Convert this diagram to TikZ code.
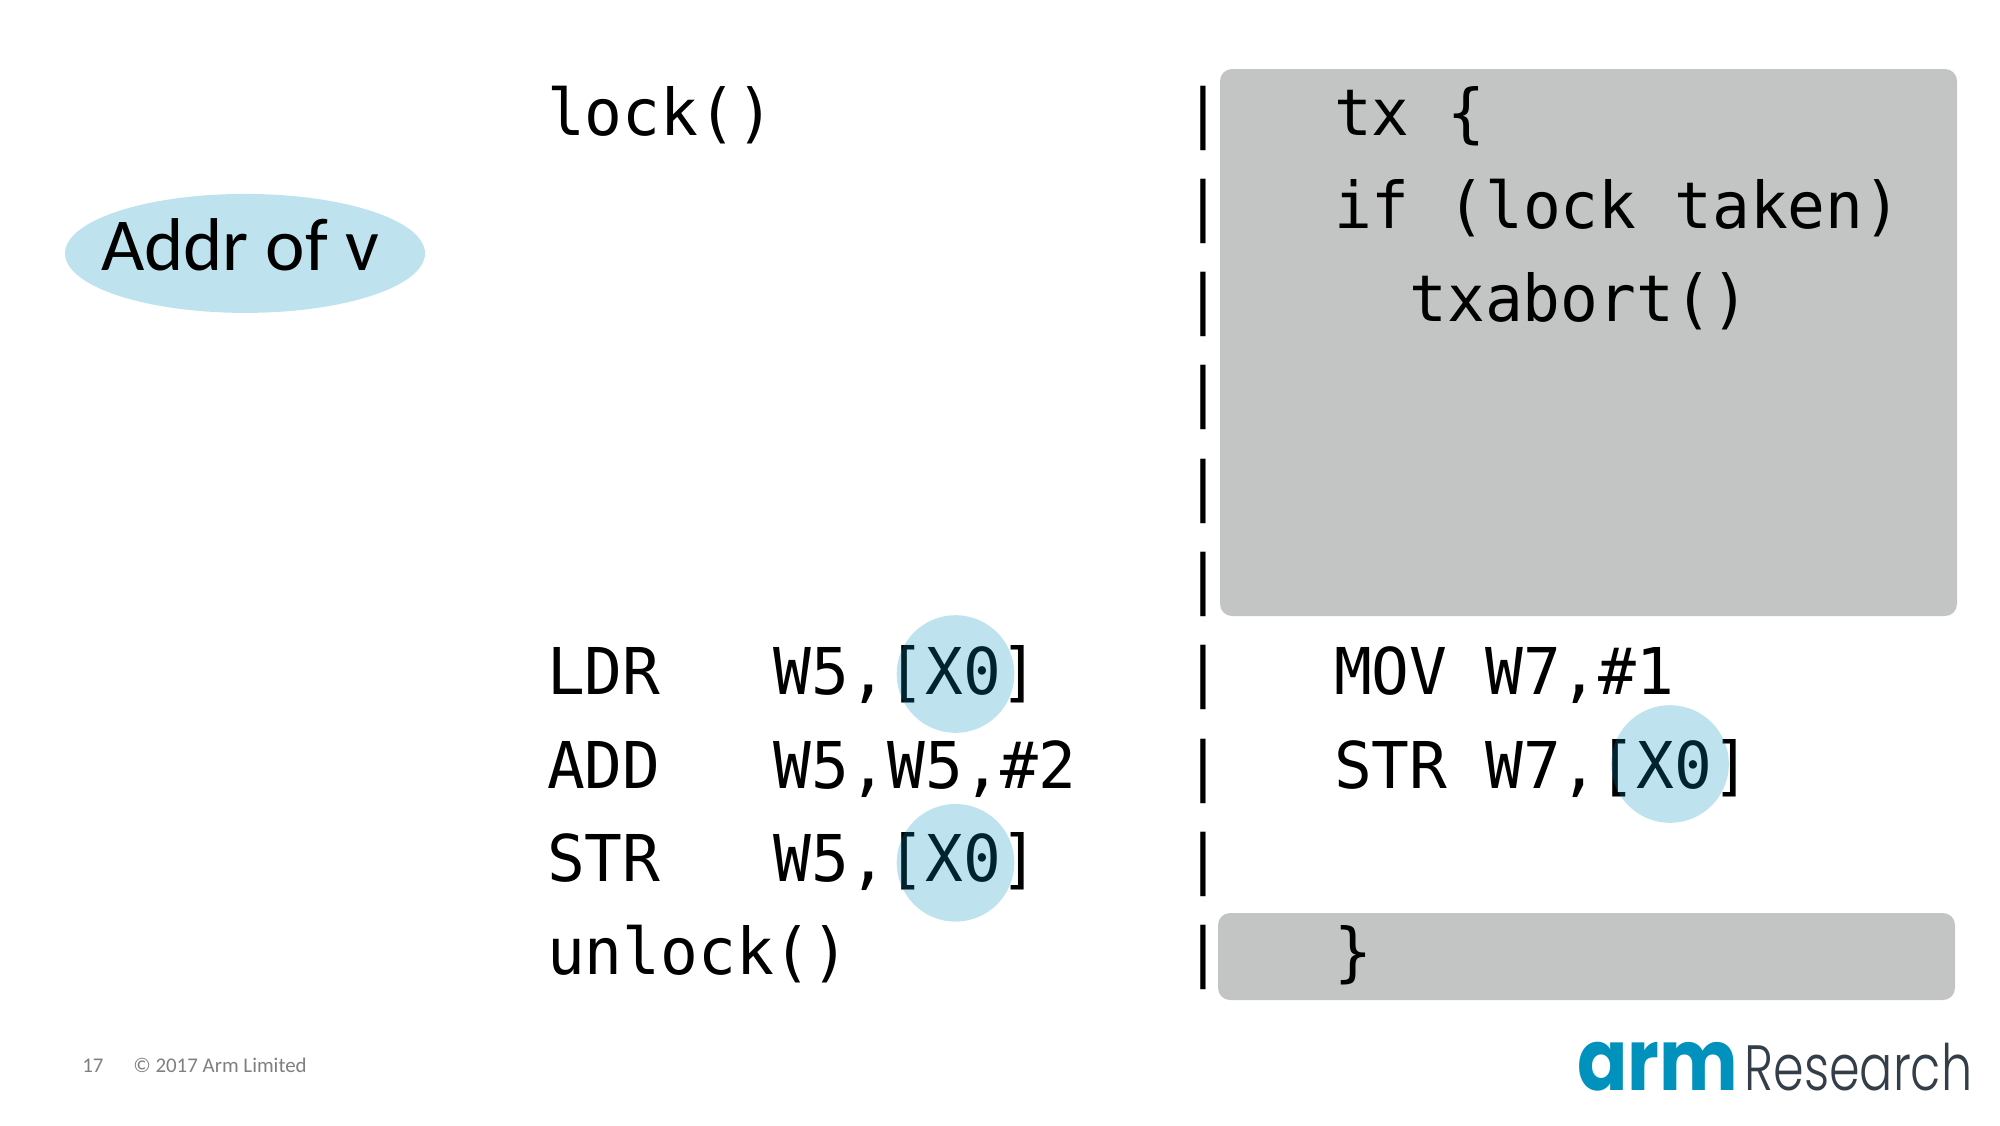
\documentclass[tikz,border=0pt]{standalone}
\usepackage{fontspec}
\usepackage{xcolor}
\usetikzlibrary{positioning,shapes.geometric}
\setmainfont{Carlito}
\newfontfamily\codefont[FakeStretch=0.974]{DejaVu Sans Mono}
\newfontfamily\logofont[FakeStretch=0.87]{Poppins}
\newfontfamily\logolight[FakeStretch=0.77]{Poppins Light}
\definecolor{armblue}{HTML}{0091BD}
\definecolor{panelgrey}{HTML}{C3C5C4}
\definecolor{footgrey}{HTML}{7F7F7F}
\definecolor{logoslate}{HTML}{333E48}
\tikzset{
  codeline/.style={font=\codefont\fontsize{32.25pt}{36pt}\selectfont, text=black, inner xsep=0pt, inner ysep=0pt,
                   outer sep=0pt, text height=32pt, text depth=14.65pt},
  panel/.style={fill=panelgrey, rounded corners=6pt, inner sep=0pt, outer sep=0pt, anchor=north west},
  regtint/.style={circle, fill=armblue, fill opacity=.25, minimum size=58.8pt, inner sep=0pt},
  foot/.style={font=\fontsize{10.45pt}{12pt}\selectfont, text=footgrey, inner sep=0pt, anchor=base west}
}
\begin{document}
\begin{tikzpicture}[node distance=0pt]
  \useasboundingbox (0,0) rectangle (1000pt,-562.5pt);
  \node[panel, minimum width=368.5pt, minimum height=273.5pt] (txpanel) at (610pt,-34.5pt) {};
  \node[panel, minimum width=368.5pt, minimum height=43.5pt] (endpanel) at (609pt,-456.5pt) {};
  \node[ellipse, fill=armblue, fill opacity=.25, minimum width=180pt, minimum height=59.5pt,
        inner sep=0pt] (addr) at (122.5pt,-126.7pt) {};
  \node[inner sep=0pt, font=\fontsize{37.4pt}{40pt}\selectfont, xshift=-2.5pt, yshift=4.5pt] (addrtext) at (addr) {Addr of v};
  \coordinate (leftcol) at (273.5pt,0);
  \coordinate (rightcol) at (667pt,0);
  \node[codeline, anchor=north] (bara) at (601.5pt,-35.5pt) {|};
  \node[codeline, below=of bara] (barb) {|};
  \node[codeline, below=of barb] (barc) {|};
  \node[codeline, below=of barc] (bard) {|};
  \node[codeline, below=of bard] (bare) {|};
  \node[codeline, below=of bare] (barf) {|};
  \node[codeline, below=of barf] (barg) {|};
  \node[codeline, below=of barg] (barh) {|};
  \node[codeline, below=of barh] (bari) {|};
  \node[codeline, below=of bari] (barj) {|};
  \node[codeline, anchor=west] (lockline) at (leftcol |- bara) {lock()};
  \node[codeline, anchor=west] (ldrline) at (leftcol |- barg) {LDR\ \ \ W5,[X0]};
  \node[codeline, anchor=west] (addline) at (leftcol |- barh) {ADD\ \ \ W5,W5,\#2};
  \node[codeline, anchor=west] (strline) at (leftcol |- bari) {STR\ \ \ W5,[X0]};
  \node[codeline, anchor=west] (unlockline) at (leftcol |- barj) {unlock()};
  \node[codeline, anchor=west] (txline) at (rightcol |- bara) {tx \{};
  \node[codeline, anchor=west] (ifline) at (rightcol |- barb) {if (lock taken)};
  \node[codeline, anchor=west, xshift=37.7pt] (abortline) at (rightcol |- barc) {txabort()};
  \node[codeline, anchor=west] (movline) at (rightcol |- barg) {MOV W7,\#1};
  \node[codeline, anchor=west] (storeline) at (rightcol |- barh) {STR W7,[X0]};
  \node[codeline, anchor=west] (closeline) at (rightcol |- barj) {\}};
  \node[regtint] (ldrreg) at (477.75pt,-337pt) {};
  \node[regtint] (strreg) at (477.75pt,-431.4pt) {};
  \node[regtint] (storereg) at (835pt,-382pt) {};
  \node[foot] (pagenum) at (41pt,-536pt) {17};
  \node[foot] (copyright) at (66.5pt,-536pt) {© 2017 Arm Limited};
  \node[inner sep=0pt, anchor=base west, text=armblue, font=\logofont\bfseries\fontsize{42.7pt}{44pt}\selectfont] (logoarm) at (788.5pt,-545pt) {arm};
  \node[inner sep=0pt, anchor=base west, text=logoslate, font=\logolight\fontsize{32pt}{34pt}\selectfont] (logoresearch) at (872pt,-545pt) {Research};
\end{tikzpicture}
\end{document}
